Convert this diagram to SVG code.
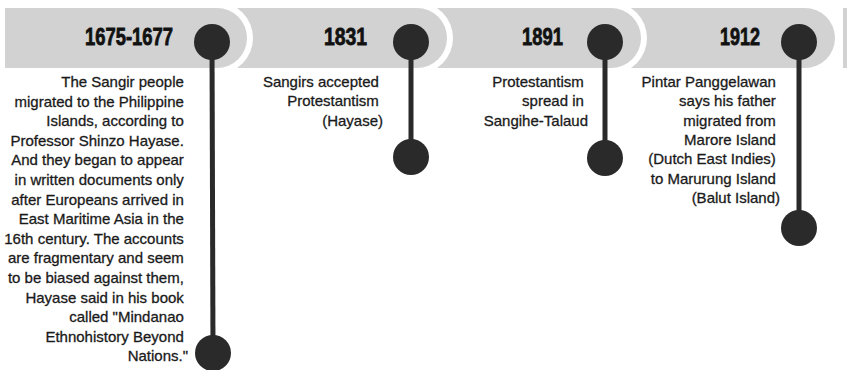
<svg xmlns="http://www.w3.org/2000/svg" width="847" height="370" viewBox="0 0 847 370">
<style>
  .band { fill: #d2d2d2; }
  .halo { fill: #ffffff; }
  .dot { fill: #2a2a2a; }
  .stem { stroke: #2a2a2a; stroke-width: 5; fill: none; }
  .year { font-family: "Liberation Sans", Arial, sans-serif; font-weight: bold; font-size: 24px; fill: #111111; stroke: #111111; stroke-width: 0.8; text-anchor: end; }
  .body { font-family: "Liberation Sans", Arial, sans-serif; font-size: 15px; fill: #1a1a1a; stroke: #1a1a1a; stroke-width: 0.3; text-anchor: end; }
</style>
<rect width="847" height="370" fill="#ffffff"/>
<g id="band">
  <rect class="band" x="843" y="8" width="20" height="60"/>
  <path class="halo" d="M 700 2 H 805 A 36 36 0 0 1 805 74 H 700 Z"/>
  <path class="band" d="M 600 8 H 805 A 30 30 0 0 1 805 68 H 600 Z"/>
  <path class="halo" d="M 500 2 H 611 A 36 36 0 0 1 611 74 H 500 Z"/>
  <path class="band" d="M 400 8 H 611 A 30 30 0 0 1 611 68 H 400 Z"/>
  <path class="halo" d="M 300 2 H 417 A 36 36 0 0 1 417 74 H 300 Z"/>
  <path class="band" d="M 200 8 H 417 A 30 30 0 0 1 417 68 H 200 Z"/>
  <path class="halo" d="M 5 2 H 217 A 36 36 0 0 1 217 74 H 5 Z"/>
  <path class="band" d="M 5 8 H 217 A 30 30 0 0 1 217 68 H 5 Z"/>
</g>
<g id="connectors">
  <line class="stem" x1="212" y1="42" x2="213" y2="353"/>
  <line class="stem" x1="411" y1="42" x2="411" y2="157"/>
  <line class="stem" x1="605" y1="42" x2="605" y2="158"/>
  <line class="stem" x1="799" y1="42" x2="799" y2="228"/>
</g>
<g id="node-1675">
  <text class="year" x="173" y="45" textLength="88" lengthAdjust="spacingAndGlyphs">1675-1677</text>
  <circle class="dot" cx="212" cy="42" r="18"/>
  <circle class="dot" cx="213" cy="353" r="18"/>
  <text class="body">
    <tspan x="188" y="87">The Sangir people</tspan>
    <tspan x="188" y="106.6">migrated to the Philippine</tspan>
    <tspan x="188" y="126.2">Islands, according to</tspan>
    <tspan x="188" y="145.8">Professor Shinzo Hayase.</tspan>
    <tspan x="188" y="165.4">And they began to appear</tspan>
    <tspan x="188" y="185">in written documents only</tspan>
    <tspan x="188" y="204.6">after Europeans arrived in</tspan>
    <tspan x="188" y="224.2">East Maritime Asia in the</tspan>
    <tspan x="188" y="243.8">16th century. The accounts</tspan>
    <tspan x="188" y="263.4">are fragmentary and seem</tspan>
    <tspan x="188" y="283">to be biased against them,</tspan>
    <tspan x="188" y="302.6">Hayase said in his book</tspan>
    <tspan x="188" y="322.2">called "Mindanao</tspan>
    <tspan x="188" y="341.8">Ethnohistory Beyond</tspan>
    <tspan x="188" y="361.4">Nations."</tspan>
  </text>
</g>
<g id="node-1831">
  <text class="year" x="367" y="45" textLength="43" lengthAdjust="spacingAndGlyphs">1831</text>
  <circle class="dot" cx="411" cy="42" r="18"/>
  <circle class="dot" cx="411" cy="157" r="18"/>
  <text class="body">
    <tspan x="383" y="87">Sangirs accepted</tspan>
    <tspan x="383" y="106.3">Protestantism</tspan>
    <tspan x="383" y="125.6">(Hayase)</tspan>
  </text>
</g>
<g id="node-1891">
  <text class="year" x="563" y="45" textLength="41" lengthAdjust="spacingAndGlyphs">1891</text>
  <circle class="dot" cx="605" cy="42" r="18"/>
  <circle class="dot" cx="605" cy="158" r="18"/>
  <text class="body">
    <tspan x="588" y="87">Protestantism</tspan>
    <tspan x="588" y="106.3">spread in</tspan>
    <tspan x="588" y="125.6">Sangihe-Talaud</tspan>
  </text>
</g>
<g id="node-1912">
  <text class="year" x="760" y="45" textLength="40" lengthAdjust="spacingAndGlyphs">1912</text>
  <circle class="dot" cx="799" cy="42" r="18"/>
  <circle class="dot" cx="799" cy="228" r="18"/>
  <text class="body">
    <tspan x="780" y="87">Pintar Panggelawan</tspan>
    <tspan x="780" y="106.3">says his father</tspan>
    <tspan x="780" y="125.6">migrated from</tspan>
    <tspan x="780" y="144.9">Marore Island</tspan>
    <tspan x="780" y="164.2">(Dutch East Indies)</tspan>
    <tspan x="780" y="183.5">to Marurung Island</tspan>
    <tspan x="780" y="202.8">(Balut Island)</tspan>
  </text>
</g>
</svg>
